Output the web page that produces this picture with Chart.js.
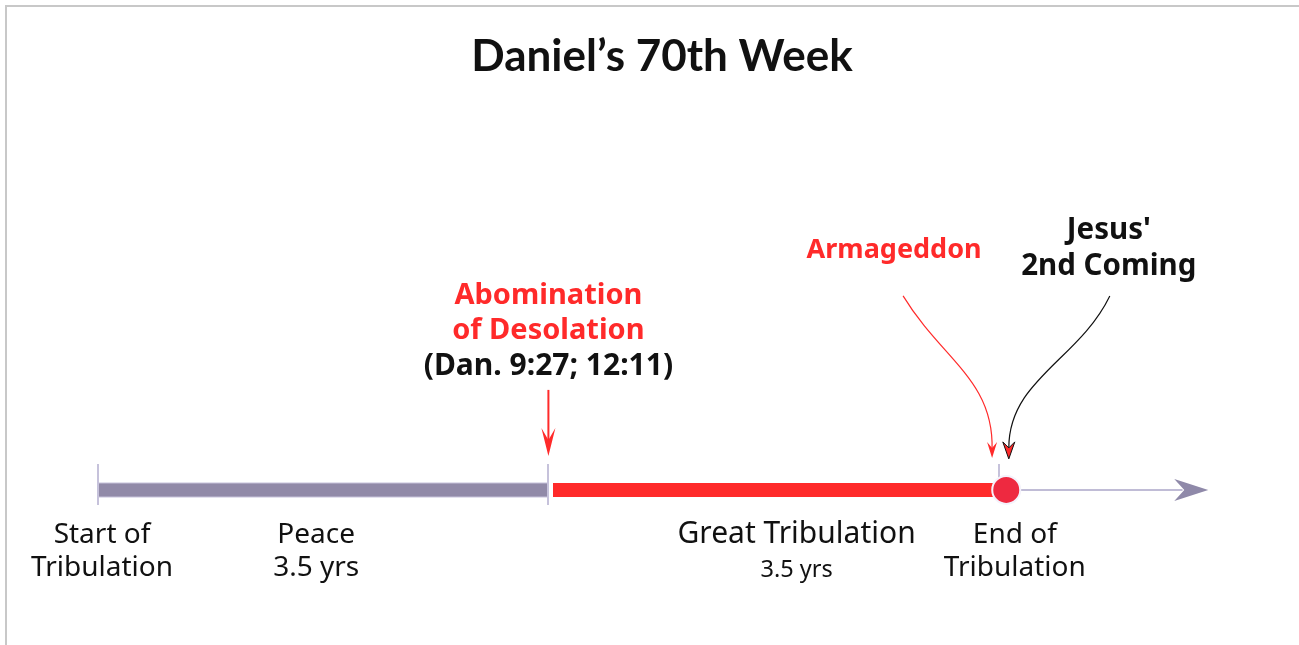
<!DOCTYPE html>
<html>
<head>
<meta charset="utf-8">
<script src="https://cdn.jsdelivr.net/npm/chart.js@4"></script>
<style>
  html,body{margin:0;padding:0;background:#fff;}
  canvas{display:block;}
</style>
</head>
<body>
<canvas id="grafica" width="1299" height="645"></canvas>
<script>
// años de la semana 70
const phaseNames = ["Peace", "Great Tribulation"];
const phaseStart = [0, 3.5];
const phaseEnd = [3.5, 7];
const phaseLengths = ["3.5 yrs", "3.5 yrs"];
const markerYears = [0, 3.5, 7];
const markerLabels = [["Start of", "Tribulation"], [], ["End of", "Tribulation"]];
const endMarkYear = 7.05;
const axisEnd = 8.62;
const eventNames = [["Abomination", "of Desolation"], ["Armageddon"], ["Jesus'", "2nd Coming"]];
const eventYears = [3.5, 6.94, 7.07];
const eventRefs = ["(Dan. 9:27; 12:11)", "", ""];

const RED = "#ff2a2a";
const LAV = "#c6c2db";

function textLines(ctx, lines, x, y, gap){
    lines.forEach((t,i)=>ctx.fillText(t, x, y + i*gap));
}

const timelinePlugin = {
    id: "timeline",
    beforeDraw(chart){
        const ctx = chart.ctx;
        ctx.save();
        ctx.fillStyle = "#fff";
        ctx.fillRect(0,0,chart.width,chart.height);
        ctx.strokeStyle = "#c8c8c8";
        ctx.lineWidth = 2;
        ctx.beginPath();
        ctx.moveTo(6,chart.height); ctx.lineTo(6,6); ctx.lineTo(chart.width,6);
        ctx.stroke();
        ctx.restore();
    },
    beforeDatasetsDraw(chart){
        const ctx = chart.ctx, xs = chart.scales.x, base = chart.scales.y.getPixelForValue(0);
        ctx.save();
        // marcas verticales
        ctx.strokeStyle = LAV;
        ctx.lineWidth = 2;
        markerYears.forEach((yr,i)=>{
            const px = Math.round(xs.getPixelForValue(yr)) - 1;
            ctx.beginPath();
            ctx.moveTo(px, base - 26);
            ctx.lineTo(px, i===2 ? base : base + 15);
            ctx.stroke();
        });
        // punta de la flecha del eje
        const tip = xs.getPixelForValue(axisEnd);
        ctx.fillStyle = "#8f89a9";
        ctx.beginPath();
        ctx.moveTo(tip, base);
        ctx.lineTo(tip - 34, base - 11);
        ctx.lineTo(tip - 24, base);
        ctx.lineTo(tip - 34, base + 11);
        ctx.closePath();
        ctx.fill();
        ctx.restore();
    },
    afterDatasetsDraw(chart){
        const ctx = chart.ctx, xs = chart.scales.x, base = chart.scales.y.getPixelForValue(0);
        ctx.save();
        // hueco blanco despues de la marca central
        const mid = Math.round(xs.getPixelForValue(markerYears[1]));
        ctx.fillStyle = "#fff";
        ctx.fillRect(mid, base - 9, 4, 18);
        ctx.strokeStyle = LAV; ctx.lineWidth = 2;
        ctx.beginPath(); ctx.moveTo(mid - 1, base - 9); ctx.lineTo(mid - 1, base + 9); ctx.stroke();

        ctx.textAlign = "center";
        ctx.textBaseline = "middle";
        ctx.fillStyle = "#111";
        // etiquetas de abajo
        ctx.font = "28px 'Noto Sans'";
        markerYears.forEach((yr,i)=>{
            if(!markerLabels[i].length) return;
            textLines(ctx, markerLabels[i], xs.getPixelForValue(yr) + (i===0 ? 3 : 15), base + 45, 33);
        });
        phaseNames.forEach((n,i)=>{
            const cx = xs.getPixelForValue((phaseStart[i]+phaseEnd[i])/2) + (i===0 ? -8 : 22);
            ctx.font = (i===0 ? "28px" : "30px") + " 'Noto Sans'";
            ctx.fillText(n, cx, base + 45);
            ctx.font = (i===0 ? "28px" : "23.5px") + " 'Noto Sans'";
            ctx.fillText(phaseLengths[i], cx, base + (i===0 ? 78 : 80));
        });

        // Abominacion
        const ax = xs.getPixelForValue(eventYears[0]) - 1;
        ctx.font = "bold 29px 'Noto Sans'";
        ctx.fillStyle = RED;
        textLines(ctx, eventNames[0], ax, base - 194, 35);
        ctx.fillStyle = "#111";
        ctx.font = "bold 30px 'Noto Sans'";
        ctx.fillText(eventRefs[0], ax, base - 123);
        ctx.strokeStyle = RED; ctx.lineWidth = 2;
        ctx.beginPath(); ctx.moveTo(ax, base - 100); ctx.lineTo(ax, base - 45); ctx.stroke();
        ctx.fillStyle = RED;
        ctx.beginPath();
        ctx.moveTo(ax, base - 34); ctx.lineTo(ax - 7, base - 62); ctx.lineTo(ax, base - 50); ctx.lineTo(ax + 7, base - 62);
        ctx.closePath(); ctx.fill();

        // Armagedon
        const rx = xs.getPixelForValue(eventYears[1]);
        ctx.font = "bold 27px 'Noto Sans'";
        ctx.fillStyle = RED;
        ctx.fillText(eventNames[1][0], rx - 98, base - 240);
        ctx.strokeStyle = RED; ctx.lineWidth = 1.2;
        ctx.beginPath();
        ctx.moveTo(rx - 89, base - 194);
        ctx.bezierCurveTo(rx - 50, base - 130, rx + 2, base - 110, rx, base - 40);
        ctx.stroke();
        ctx.beginPath();
        ctx.moveTo(rx, base - 32); ctx.lineTo(rx - 5, base - 48); ctx.lineTo(rx, base - 42); ctx.lineTo(rx + 5, base - 48);
        ctx.closePath(); ctx.fill();

        // Segunda venida
        const jx = xs.getPixelForValue(eventYears[2]);
        ctx.font = "bold 29.5px 'Noto Sans'";
        ctx.fillStyle = "#111";
        textLines(ctx, eventNames[2], jx + 100, base - 259, 36);
        ctx.strokeStyle = "#111"; ctx.lineWidth = 1.2;
        ctx.beginPath();
        ctx.moveTo(jx + 101, base - 194);
        ctx.bezierCurveTo(jx + 70, base - 130, jx, base - 110, jx, base - 42);
        ctx.stroke();
        ctx.fillStyle = RED; ctx.lineWidth = 1;
        ctx.beginPath();
        ctx.moveTo(jx, base - 31); ctx.lineTo(jx - 6, base - 48); ctx.lineTo(jx, base - 42); ctx.lineTo(jx + 6, base - 48);
        ctx.closePath(); ctx.fill(); ctx.stroke();
        ctx.restore();
    }
};

const ctx1 = document.getElementById("grafica");
new Chart(ctx1,{
    type:"line",
    data:{
        datasets:[
            {
                label:"punto final",
                data:[{x:endMarkYear, y:0}],
                showLine:false,
                pointRadius:14,
                pointBackgroundColor:"#ee2940",
                pointBorderColor:"#f4f2fb",
                pointBorderWidth:2,
                order:0
            },
            {
                label:phaseNames[1],
                data:[{x:phaseStart[1], y:0},{x:phaseEnd[1], y:0}],
                borderColor:RED,
                borderWidth:14,
                borderCapStyle:"butt",
                pointRadius:0,
                order:1
            },
            {
                label:phaseNames[0],
                data:[{x:phaseStart[0], y:0},{x:phaseEnd[0], y:0}],
                borderColor:"#918aa8",
                borderWidth:13,
                borderCapStyle:"butt",
                pointRadius:0,
                order:2
            },
            {
                label:"borde",
                data:[{x:phaseStart[0], y:0},{x:phaseEnd[0], y:0}],
                borderColor:LAV,
                borderWidth:15,
                borderCapStyle:"butt",
                pointRadius:0,
                order:3
            },
            {
                label:"eje",
                data:[{x:phaseEnd[1], y:0},{x:axisEnd - 0.2, y:0}],
                borderColor:"#c0bcd6",
                borderWidth:2,
                pointRadius:0,
                order:4
            }
        ]
    },
    options:{
        responsive:false,
        animation:false,
        devicePixelRatio:1,
        clip:false,
        layout:{padding:{left:99, right:74, top:0, bottom:0}},
        scales:{
            x:{type:"linear", min:0, max:8.75, display:false},
            y:{min:-1, max:1, display:false}
        },
        plugins:{
            legend:{display:false},
            tooltip:{enabled:false},
            title:{
                display:true,
                text:"Daniel\u2019s 70th Week",
                color:"#111",
                font:{family:"Lato", size:44, weight:"bold", lineHeight:1.2},
                padding:{top:30, bottom:268}
            }
        }
    },
    plugins:[timelinePlugin]
});
</script>
</body>
</html>
